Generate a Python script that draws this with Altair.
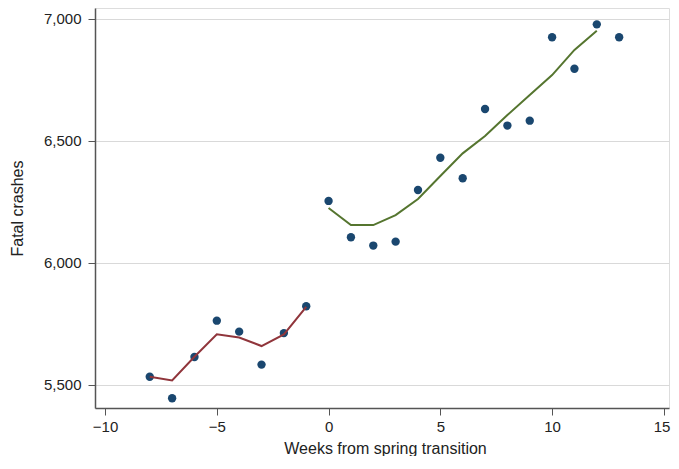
import altair as alt
import pandas as pd

# Observed weekly fatal crashes
weeks = [-8, -7, -6, -5, -4, -3, -2, -1, 0, 1, 2, 3, 4, 5, 6, 7, 8, 9, 10, 11, 12, 13]
crashes = [5533, 5445, 5614, 5763, 5718, 5583, 5712, 5822,
           6254, 6105, 6071, 6087, 6299, 6431, 6347, 6631, 6563, 6583, 6925, 6796, 6978, 6925]

# Fitted lines
pre_weeks = [-8, -7, -6, -5, -4, -3, -2, -1]
pre_fit = [5533, 5518, 5615, 5707, 5694, 5659, 5707, 5820]
post_weeks = [0, 1, 2, 3, 4, 5, 6, 7, 8, 9, 10, 11, 12]
post_fit = [6225, 6155, 6155, 6196, 6262, 6356, 6449, 6520, 6606, 6688, 6770, 6873, 6952]

x_ticks = [-10, -5, 0, 5, 10, 15]
y_ticks = [5500, 6000, 6500, 7000]

pts = pd.DataFrame({"week": weeks, "crashes": crashes})
pre = pd.DataFrame({"week": pre_weeks, "fit": pre_fit})
post = pd.DataFrame({"week": post_weeks, "fit": post_fit})

FONT = "Liberation Sans"
xs = alt.Scale(domain=[-10.45, 15.23], nice=False, zero=False)
ys = alt.Scale(domain=[5405, 7045], nice=False, zero=False)

xax = alt.Axis(values=x_ticks, title="Weeks from spring transition", grid=False,
               format="d", labelFlush=8, labelFlushOffset=6,
               tickSize=7, labelPadding=4, labelFontSize=15, titleFontSize=16,
               labelFont=FONT, titleFont=FONT, titleFontWeight="normal",
               domainColor="#555555", tickColor="#555555", domainWidth=1.5,
               labelColor="#222222", titleColor="#222222",
               titleX=290, titleY=40, titleBaseline="middle")
yax = alt.Axis(values=y_ticks, title="Fatal crashes", format=",.0f", grid=True,
               gridColor="#d9d9d9", gridWidth=1.2,
               tickSize=7, labelPadding=7, labelFontSize=15, titleFontSize=16,
               labelFont=FONT, titleFont=FONT, titleFontWeight="normal",
               domainColor="#555555", tickColor="#555555", domainWidth=1.5,
               labelColor="#222222", titleColor="#222222",
               titleX=-78, titleY=200, titleAngle=-90, titleAlign="center",
               titleBaseline="middle")

points = alt.Chart(pts).mark_circle(size=70, color="#1a476f", opacity=1).encode(
    x=alt.X("week:Q", scale=xs, axis=xax),
    y=alt.Y("crashes:Q", scale=ys, axis=yax),
)
line_pre = alt.Chart(pre).mark_line(color="#90353b", strokeWidth=2).encode(
    x=alt.X("week:Q", scale=xs), y=alt.Y("fit:Q", scale=ys))
line_post = alt.Chart(post).mark_line(color="#55752f", strokeWidth=2).encode(
    x=alt.X("week:Q", scale=xs), y=alt.Y("fit:Q", scale=ys))

chart = alt.layer(points, line_pre, line_post).properties(
    width=574, height=400,
    autosize=alt.AutoSizeParams(type="none"),
    padding={"left": 87, "top": 0, "right": 2, "bottom": 48},
).configure_view(stroke=None).configure(background="white")

chart.save("out.html", embed_options={"renderer": "svg", "actions": False})
